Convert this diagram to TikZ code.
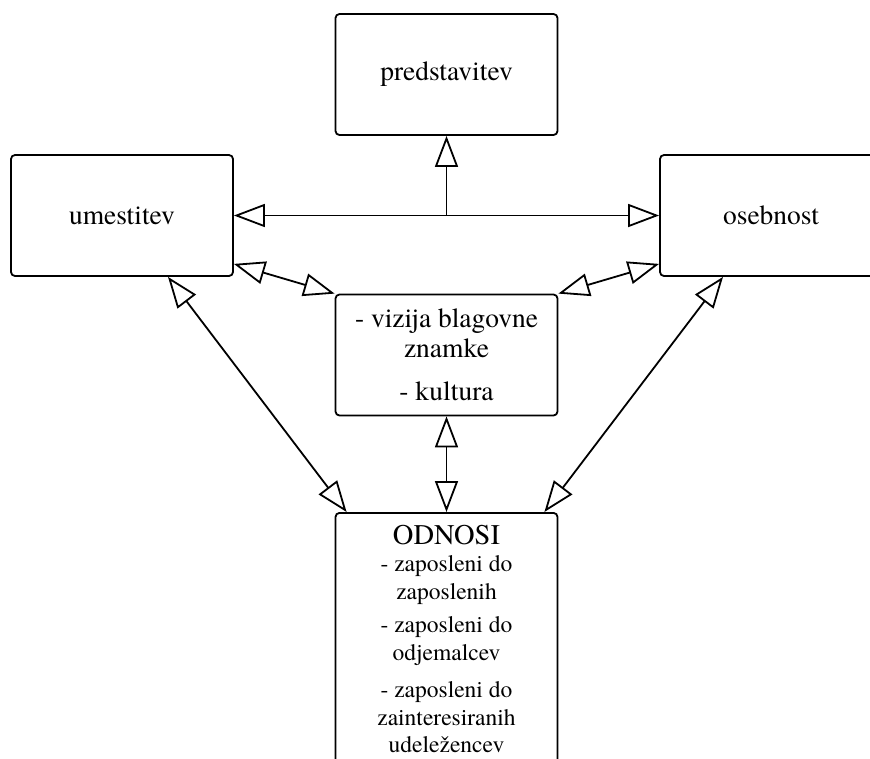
\documentclass[tikz,border=0pt]{standalone}
\usepackage{fontspec}
\setmainfont{TeX Gyre Termes}
\usetikzlibrary{arrows.meta}

\tikzset{
    box/.style={draw, rounded corners=4pt, line width=1.8pt, align=center,
        minimum width=222pt, minimum height=121pt,
        font=\fontsize{27.5}{30}\selectfont},
    both/.style={line width=1.8pt,
        {Triangle[open,length=31pt,width=23pt]}-{Triangle[open,length=31pt,width=23pt]}},
    single/.style={line width=1.8pt, -{Triangle[open,length=31pt,width=23pt]}}
}

\begin{document}
\begin{tikzpicture}[x=1pt, y=-1pt]
    \useasboundingbox (0, 0) rectangle (870, 758);

    % Outer boxes
    \node[box] (predstavitev) at (446.5, 74.5) {predstavitev};
    \node[box] (umestitev) at (122, 215.5) {umestitev};
    \node[box] (osebnost) at (771, 215.5) {osebnost};

    % Middle box
    \node[box] (vizija) at (446.5, 355) {- vizija blagovne\\ znamke\\[13pt] - kultura};

    % Relations box, cut off at the bottom
    \node[box, anchor=north, inner ysep=12pt, minimum height=0pt,
        font=\fontsize{23.5}{27.5}\selectfont] (odnosi) at (446.5, 512)
        {{\fontsize{28.5}{30}\selectfont ODNOSI}\\
         - zaposleni do\\ zaposlenih\\[6pt]
         - zaposleni do\\ odjemalcev\\[10pt]
         - zaposleni do\\ zainteresiranih\\ udeležencev};

    % Connectors
    \draw[both] (umestitev.east) -- (osebnost.west);
    \coordinate (split) at (umestitev.east -| predstavitev.south);
    \draw[single] (split) -- (predstavitev.south);

    \draw[both] ([yshift=13pt]umestitev.south east) -- (vizija.north west);
    \draw[both] ([yshift=13pt]osebnost.south west) -- (vizija.north east);
    \draw[both] (vizija.south) -- (odnosi.north);

    \draw[both] ([xshift=46pt]umestitev.south) -- ([xshift=12pt]odnosi.north west);
    \draw[both] ([xshift=-48pt]osebnost.south) -- ([xshift=-14pt]odnosi.north east);
\end{tikzpicture}
\end{document}
